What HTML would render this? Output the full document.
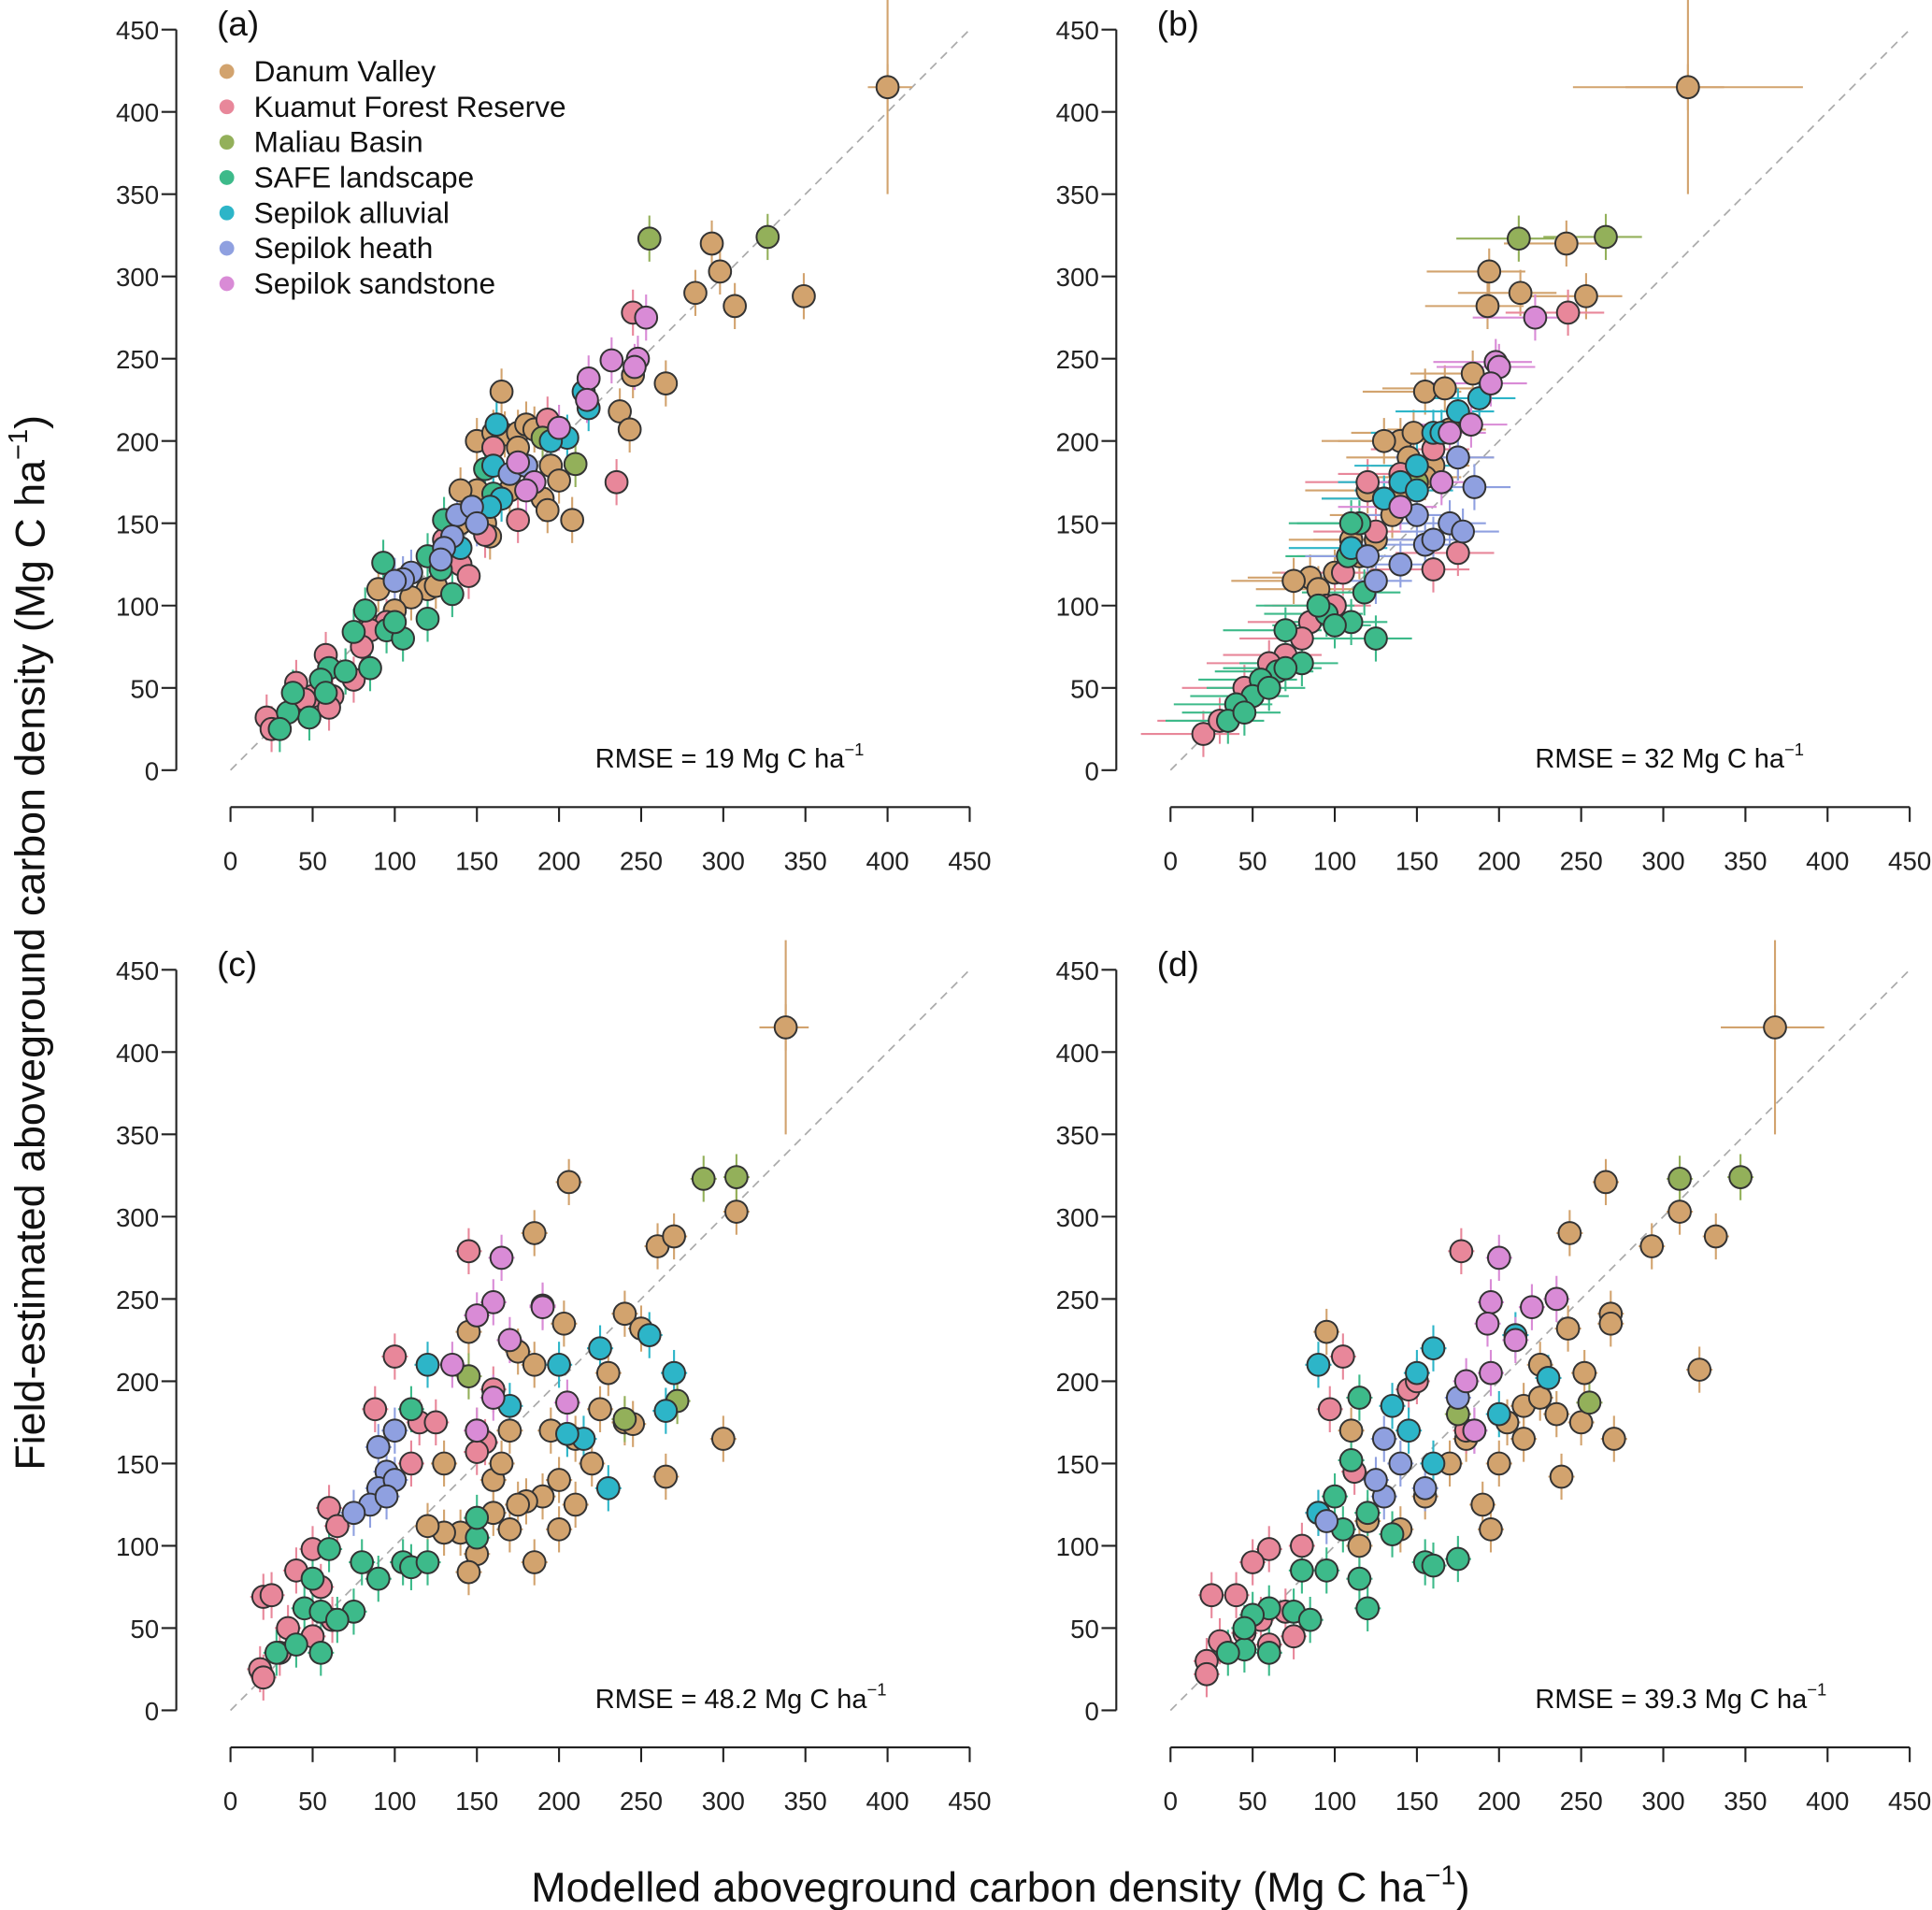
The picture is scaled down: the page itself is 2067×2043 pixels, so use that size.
<!DOCTYPE html>
<html><head><meta charset="utf-8">
<style>
html,body{margin:0;padding:0;background:#fff;}
svg{display:block;font-family:"Liberation Sans",Arial,sans-serif;}
</style></head>
<body>
<svg id="fig" width="2067" height="2043" viewBox="0 0 1568 1550" xmlns="http://www.w3.org/2000/svg">
<text transform="translate(36,765) rotate(-90)" text-anchor="middle" font-size="34" fill="#111">Field-estimated aboveground carbon density (Mg C  ha<tspan font-size="22" dy="-14">−1</tspan><tspan dy="14">)</tspan></text>
<text x="812" y="1543" text-anchor="middle" font-size="34" fill="#111">Modelled aboveground carbon density (Mg C  ha<tspan font-size="22" dy="-14">−1</tspan><tspan dy="14">)</tspan></text>
</svg>
<script>
const sites = ["Danum Valley","Kuamut Forest Reserve","Maliau Basin","SAFE landscape","Sepilok alluvial","Sepilok heath","Sepilok sandstone"];
const siteColors = ["#D2A36E","#E8879A","#93B05A","#3DBA8A","#2DB5C8","#8FA0E0","#D98BD6"];
const tickValues = [0,50,100,150,200,250,300,350,400,450];
const panelLabels = ["(a)","(b)","(c)","(d)"];
const rmseValues = ["19","32","48.2","39.3"];

const panelA = [
 [[400,415],[293,320],[298,303],[283,290],[307,282],[349,288],[265,235],[237,218],[243,207],[245,240],[165,230],[150,200],[160,205],[167,204],[175,205],[180,210],[185,207],[195,185],[200,176],[208,152],[190,165],[193,158],[150,170],[140,170],[155,150],[158,142],[140,150],[120,110],[125,112],[110,105],[90,110],[100,97],[85,88],[175,196],[180,185],[170,170]],
 [[245,278],[235,175],[193,213],[160,196],[175,152],[155,143],[140,125],[145,118],[130,140],[95,90],[85,85],[80,75],[70,60],[62,45],[50,45],[58,70],[40,53],[45,43],[22,32],[25,25],[75,55],[60,38]],
 [[255,323],[327,324],[210,186],[190,202]],
 [[93,126],[82,97],[95,85],[105,80],[120,92],[135,107],[130,152],[120,130],[75,84],[85,62],[60,62],[55,55],[58,47],[48,32],[35,35],[38,47],[30,25],[70,60],[100,90],[155,183],[128,122],[160,168]],
 [[162,210],[160,185],[215,230],[218,220],[205,202],[195,200],[165,165],[158,160],[140,135]],
 [[138,155],[147,160],[150,150],[135,142],[130,135],[110,120],[105,116],[100,115],[128,128],[170,180],[180,185]],
 [[253,275],[232,249],[248,250],[218,238],[217,225],[200,208],[185,175],[180,170],[175,187],[246,245]]
];
const panelB = [
 [[315,415],[241,320],[194,303],[193,282],[213,290],[253,288],[184,241],[155,230],[167,232],[140,200],[148,205],[170,207],[130,200],[145,190],[160,185],[120,170],[130,165],[135,155],[110,140],[115,130],[100,120],[85,117],[75,115],[90,110],[125,140],[140,170],[155,178],[175,190]],
 [[242,278],[120,175],[105,120],[95,100],[85,90],[70,70],[60,65],[45,50],[20,22],[30,30],[160,195],[140,180],[125,145],[100,100],[80,80],[175,132],[160,122]],
 [[212,323],[265,324],[150,175]],
 [[125,80],[110,90],[95,95],[90,100],[100,88],[70,85],[65,60],[55,55],[50,45],[40,40],[35,30],[45,35],[60,50],[115,150],[108,130],[118,108],[80,65],[70,62],[110,150]],
 [[150,185],[160,205],[175,218],[188,226],[140,175],[165,205],[130,165],[110,135],[150,170]],
 [[185,172],[170,150],[155,137],[160,140],[140,125],[125,115],[150,155],[175,190],[120,130],[178,145]],
 [[198,248],[200,245],[195,235],[183,210],[170,205],[222,275],[165,175],[140,160]]
];
const panelC = [
 [[338,415],[206,321],[308,303],[185,290],[260,282],[270,288],[240,241],[250,232],[203,235],[175,218],[225,183],[230,205],[240,175],[185,210],[195,170],[210,165],[220,150],[245,174],[300,165],[265,142],[200,140],[190,130],[180,127],[160,120],[170,110],[150,95],[145,84],[140,108],[130,108],[120,112],[200,110],[185,90],[160,140],[170,170],[150,170],[165,150],[210,125],[175,125],[145,230],[130,150]],
 [[145,279],[100,215],[88,183],[115,175],[125,175],[155,163],[150,157],[60,123],[65,112],[50,98],[40,85],[55,75],[20,69],[25,70],[62,55],[50,45],[35,50],[18,25],[20,20],[30,35],[110,150],[160,195]],
 [[288,323],[308,324],[272,188],[240,177],[145,203]],
 [[110,183],[60,98],[50,80],[45,62],[55,60],[80,90],[90,80],[105,90],[110,87],[120,90],[150,105],[150,117],[75,60],[65,55],[55,35],[28,35],[40,40]],
 [[120,210],[200,210],[225,220],[255,228],[265,182],[270,205],[215,165],[170,185],[205,168],[230,135]],
 [[90,160],[100,170],[95,145],[90,135],[100,140],[85,125],[75,120],[95,130]],
 [[165,275],[190,246],[160,248],[150,240],[170,225],[135,210],[160,190],[150,170],[205,187],[190,245]]
];
const panelD = [
 [[368,415],[265,321],[243,290],[310,303],[293,282],[332,288],[322,207],[268,241],[268,235],[242,232],[252,205],[225,210],[215,185],[235,180],[250,175],[270,165],[238,142],[200,150],[205,175],[180,165],[170,150],[155,130],[140,110],[120,115],[110,170],[115,100],[95,230],[190,125],[195,110],[225,190],[215,165]],
 [[177,279],[105,215],[97,183],[145,195],[112,145],[90,120],[80,100],[60,98],[50,90],[40,70],[25,70],[70,60],[55,55],[45,47],[30,42],[22,30],[22,22],[60,40],[75,45],[150,200],[180,170]],
 [[310,323],[347,324],[255,187],[175,180]],
 [[115,190],[110,152],[100,130],[105,110],[120,120],[135,107],[155,90],[160,88],[175,92],[120,62],[115,80],[95,85],[80,85],[75,60],[85,55],[60,62],[50,58],[45,37],[35,35],[60,35],[45,50]],
 [[90,210],[160,220],[150,205],[210,228],[230,202],[200,180],[135,185],[145,170],[160,150],[90,120]],
 [[130,165],[140,150],[155,135],[130,130],[125,140],[95,115],[175,190],[185,170]],
 [[200,275],[195,248],[220,245],[235,250],[193,235],[210,225],[195,205],[185,170],[180,200]]
];
const panelData = [panelA,panelB,panelC,panelD];
const outlierBars = [
 [400,415,388,415,350,470],
 [315,415,245,385,350,470],
 [338,415,322,352,350,470],
 [368,415,335,398,350,470]
];
</script>
<script>
const svg = document.getElementById('fig');
const NS = "http://www.w3.org/2000/svg";
function mk(tag, attrs, parent){const e=document.createElementNS(NS,tag);for(const k in attrs)e.setAttribute(k,attrs[k]);(parent||svg).appendChild(e);return e;}
const origins = [[187,625],[950,625],[187,1388],[950,1388]];
const sx = 600/450, sy = 601/450;
const errStyle = [{xl:6,xr:6,yl:14,yh:14},{xl:38,xr:22,yl:14,yh:14},{xl:8,xr:8,yl:14,yh:14},{xl:8,xr:8,yl:14,yh:14}];

panelData.forEach((pd, p) => {
  const [ox, oy] = origins[p];
  const X = v => ox + v*sx;
  const Y = v => oy - v*sy;
  const g = mk('g', {});
  
  
  const ya = mk('g', {}, g);
  
  
  mk('line', {x1:ox-44, x2:ox-44, y1:Y(0), y2:Y(450), stroke:'#222','stroke-width':1.6}, ya);
  tickValues.forEach(t => {
    mk('line', {x1:ox-56, x2:ox-44, y1:Y(t), y2:Y(t), stroke:'#222','stroke-width':1.6}, ya);
    const tx = mk('text', {x:ox-58, y:Y(t)+8, 'text-anchor':'end','font-size':21, fill:'#222'}, ya);
    tx.textContent = t;
  });
  const xa = mk('g', {}, g);
  
  
  mk('line', {x1:X(0), x2:X(450), y1:oy+30, y2:oy+30, stroke:'#222','stroke-width':1.6}, xa);
  tickValues.forEach(t => {
    mk('line', {x1:X(t), x2:X(t), y1:oy+30, y2:oy+42, stroke:'#222','stroke-width':1.6}, xa);
    const tx = mk('text', {x:X(t), y:oy+81, 'text-anchor':'middle','font-size':21, fill:'#222'}, xa);
    tx.textContent = t;
  });
  const d = mk('line', {x1:X(0), y1:Y(0), x2:X(450), y2:Y(450), stroke:'#aaa','stroke-width':1.3,'stroke-dasharray':'7,5'}, g);
  
  
  const es = errStyle[p];
  pd.forEach((pts, s) => {
    pts.forEach(([x, y]) => {
      mk('line', {x1:X(x-es.xl), x2:X(x+es.xr), y1:Y(y), y2:Y(y), stroke:siteColors[s], 'stroke-width':1.6}, g);
      mk('line', {x1:X(x), x2:X(x), y1:Y(y-es.yl), y2:Y(y+es.yh), stroke:siteColors[s], 'stroke-width':1.6}, g);
    });
  });
  const ob = outlierBars[p];
  mk('line', {x1:X(ob[2]), x2:X(ob[3]), y1:Y(ob[1]), y2:Y(ob[1]), stroke:siteColors[0], 'stroke-width':1.6}, g);
  mk('line', {x1:X(ob[0]), x2:X(ob[0]), y1:Y(ob[4]), y2:Math.max(Y(ob[5]), oy-601-24), stroke:siteColors[0], 'stroke-width':1.6}, g);
  pd.forEach((pts, s) => {
    pts.forEach(([x, y]) => {
      const c = mk('circle', {cx:X(x), cy:Y(y), r:9, fill:siteColors[s], stroke:'#333', 'stroke-width':1.5}, g);
      
      
    });
  });
  const pl = mk('text', {x:ox-11, y:oy-596, 'font-size':28, fill:'#111'}, g);
  
  
  pl.textContent = panelLabels[p];
  const rm = mk('text', {x:ox+296, y:oy-2, 'font-size':22, fill:'#111'}, g);
  
  
  rm.innerHTML = 'RMSE = ' + rmseValues[p] + '  Mg C ha<tspan font-size="14" dy="-10">−1</tspan>';
  rm.setAttribute('xml:space', 'preserve');
  if (p === 0) {
    const lg = mk('g', {}, g);
    
    
    sites.forEach((nm, i) => {
      const yy = 58 + i*28.7;
      const e = mk('g', {}, lg);
      
      
      mk('circle', {cx:184, cy:yy, r:6, fill:siteColors[i]}, e);
      const t = mk('text', {x:206, y:yy+8, 'font-size':24, fill:'#111'}, e);
      t.textContent = nm;
    });
  }
});
</script>
</body></html>
